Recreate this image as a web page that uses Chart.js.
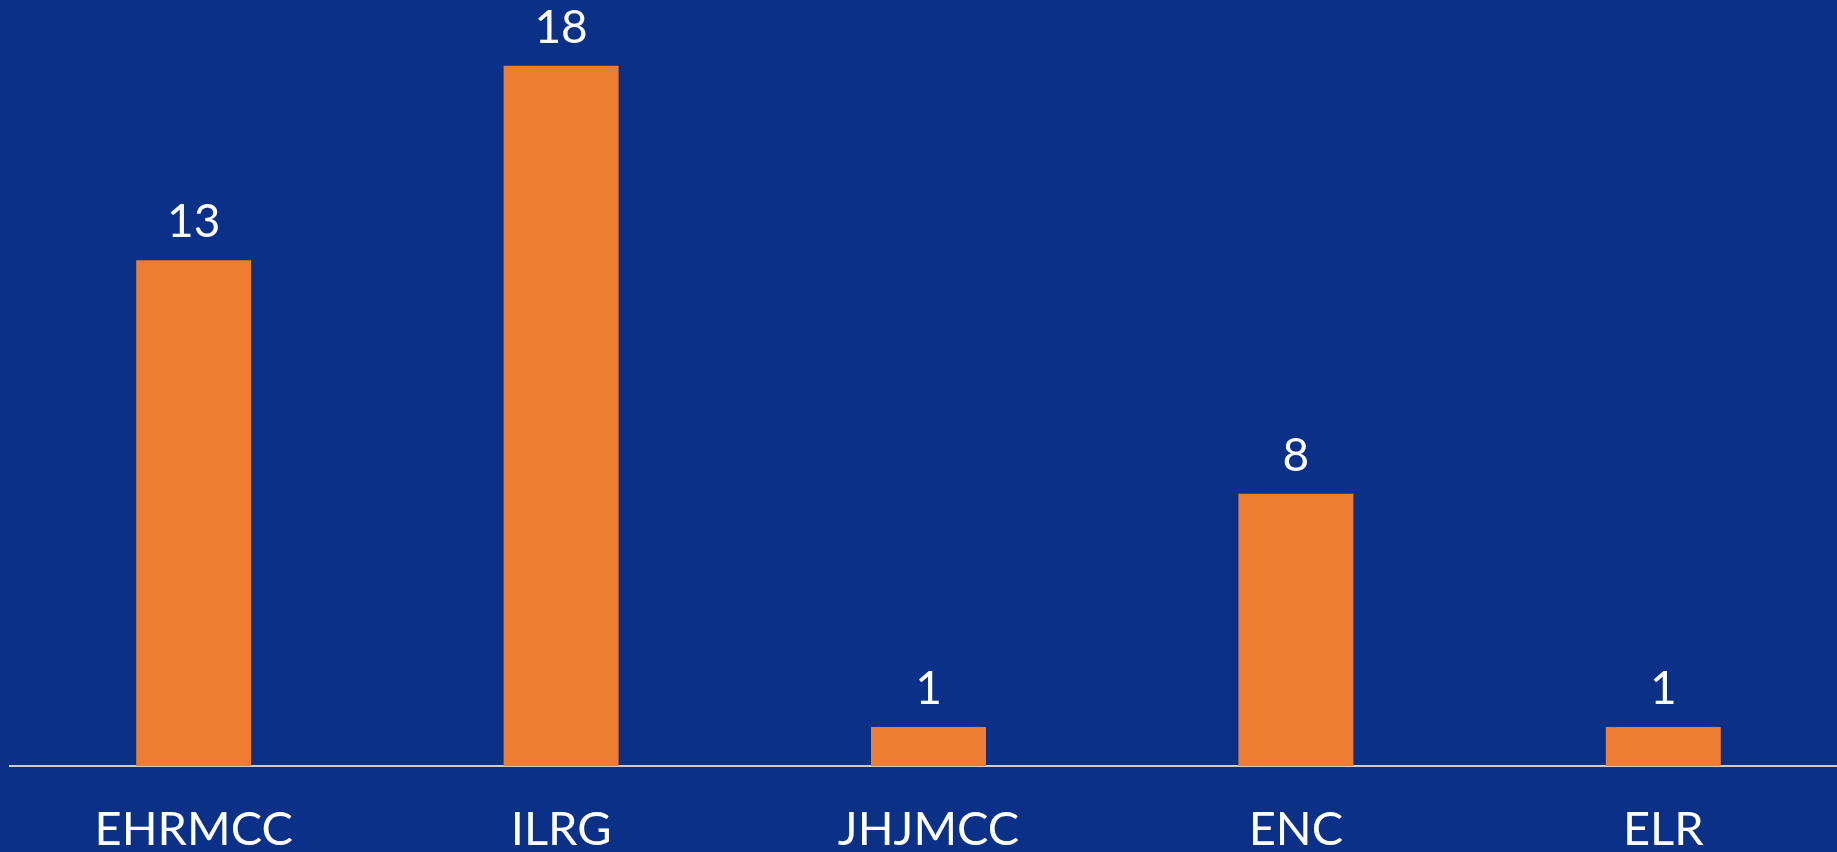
<!DOCTYPE html>
<html>
<head>
<meta charset="utf-8">
<script src="https://cdn.jsdelivr.net/npm/chart.js@4.4.0/dist/chart.umd.min.js"></script>
<style>
  html, body { margin: 0; padding: 0; overflow: hidden; background: #0B3088; }
  #wrap { position: absolute; left: 0; top: 0; width: 1857px; height: 852px; }
</style>
</head>
<body>
<div id="wrap"><canvas id="chart"></canvas></div>
<script>
const categories = ['EHRMCC', 'ILRG', 'JHJMCC', 'ENC', 'ELR'];
// bar heights as drawn in the picture
const counts = [13, 18, 1, 7, 1];
// numbers printed above the bars
const countLabels = ['13', '18', '1', '8', '1'];

// value labels above each bar
const valueLabels = {
  id: 'valueLabels',
  afterDatasetsDraw(chart) {
    const ctx = chart.ctx;
    const meta = chart.getDatasetMeta(0);
    ctx.save();
    ctx.font = '46px Lato';
    ctx.fillStyle = '#ffffff';
    ctx.textAlign = 'center';
    ctx.textBaseline = 'alphabetic';
    meta.data.forEach((bar, i) => {
      ctx.fillText(countLabels[i], bar.x, bar.y - 23);
    });
    ctx.restore();
  }
};

new Chart(document.getElementById('chart'), {
  type: 'bar',
  data: {
    labels: categories,
    datasets: [{
      data: counts,
      backgroundColor: '#ED7D31',
      categoryPercentage: 1,
      barPercentage: 0.313,
    }],
  },
  options: {
    responsive: true,
    maintainAspectRatio: false,
    animation: false,
    layout: { padding: { left: 10, right: 10, top: 0, bottom: 0 } },
    plugins: {
      legend: { display: false },
      tooltip: { enabled: false },
    },
    scales: {
      x: {
        grid: { display: false, drawTicks: false },
        border: { display: true, color: '#CCCCCC', width: 2 },
        ticks: {
          color: '#ffffff',
          font: { family: 'Lato', size: 47 },
          padding: 36,
          maxRotation: 0,
        },
        afterFit(scale) { scale.height = 86; },
      },
      y: {
        display: false,
        min: 0,
        max: 19.69,
      },
    },
  },
  plugins: [valueLabels],
});
</script>
</body>
</html>
